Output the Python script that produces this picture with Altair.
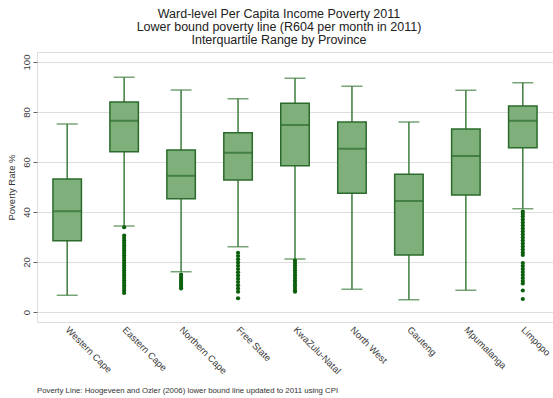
import altair as alt
import pandas as pd

# Provinces in display order
provinces = ["Western Cape", "Eastern Cape", "Northern Cape", "Free State",
             "KwaZulu-Natal", "North West", "Gauteng", "Mpumalanga", "Limpopo"]

# Box-plot summary statistics (poverty rate %, ward level)
lower_whisker = [6.7, 34.4, 16.1, 26.1, 21.2, 9.1, 4.9, 8.7, 41.3]
q1 = [28.5, 64.1, 45.3, 52.8, 58.5, 47.5, 22.8, 46.8, 65.7]
median = [40.3, 76.5, 54.5, 63.7, 74.8, 65.3, 44.4, 62.4, 76.5]
q3 = [53.2, 84.0, 64.8, 71.7, 83.5, 76.0, 55.1, 73.2, 82.4]
upper_whisker = [75.2, 93.9, 88.8, 85.3, 93.5, 90.3, 76.0, 88.7, 91.7]

# Outlying wards per province
outliers = {
    "Western Cape": [],
    "Eastern Cape": [33.9, 30.6, 29.6, 28.6, 27.6, 26.6, 25.6, 24.6, 23.6, 22.6,
                     21.6, 20.6, 19.6, 18.6, 17.6, 16.6, 15.6, 14.6, 13.6, 12.6,
                     11.6, 10.6, 9.6, 8.6, 7.6],
    "Northern Cape": [15.0, 14.0, 13.2, 12.4, 11.6, 10.8, 10.0, 9.4],
    "Free State": [23.7, 22.4, 21.1, 19.8, 18.5, 17.2, 15.9, 14.6, 13.3, 12.0,
                   10.7, 9.4, 8.1, 5.5],
    "KwaZulu-Natal": [20.6, 19.6, 18.6, 17.6, 16.6, 15.6, 14.6, 13.6, 12.6,
                      11.6, 10.6, 9.6, 8.6, 8.1],
    "North West": [],
    "Gauteng": [],
    "Mpumalanga": [],
    "Limpopo": [40.2, 39.2, 38.2, 37.0, 35.8, 34.6, 33.4, 32.2, 31.0, 29.8,
                28.6, 27.4, 26.2, 25.0, 23.8, 22.8, 19.6, 18.4, 17.2, 16.0,
                14.8, 13.6, 12.4, 11.4, 8.6, 5.2],
}

title_lines = ["Ward-level Per Capita Income Poverty 2011",
               "Lower bound poverty line (R604 per month in 2011)",
               "Interquartile Range by Province"]
note_text = "Poverty Line: Hoogeveen and Ozler (2006) lower bound line updated to 2011 using CPI"
y_ticks = [0, 20, 40, 60, 80, 100]

FONT = "Liberation Sans"
BOX_FILL = "#7fb07c"
DARK = "#2b6b2b"
WHISKER = "#3d7d3d"
DOT = "#0c5f0c"

stats = pd.DataFrame({
    "province": provinces, "lower": lower_whisker, "q1": q1,
    "median": median, "q3": q3, "upper": upper_whisker,
})
out_df = pd.DataFrame(
    [{"province": p, "value": v} for p in provinces for v in outliers[p]]
)
note_df = pd.DataFrame({"note": [note_text]})

x_enc = alt.X(
    "province:N", sort=provinces, title=None,
    scale=alt.Scale(paddingInner=0.5, paddingOuter=0.28),
    axis=alt.Axis(labelAngle=45, labelAlign="left", labelBaseline="middle",
                  ticks=False, domain=False, labelPadding=6,
                  labelFont=FONT, labelFontSize=9.5, labelColor="#3a3a3a"),
)
y_scale = alt.Scale(domain=[-4, 104], nice=False, zero=False)
y_axis = alt.Axis(values=y_ticks, title="Poverty Rate %", labelAngle=-90,
                  labelAlign="center", labelBaseline="bottom", labelPadding=2,
                  tickSize=4, tickColor="#666666", domain=False,
                  grid=True, gridColor="#dedede", gridWidth=1,
                  labelFont=FONT, labelFontSize=9.5, labelColor="#3a3a3a",
                  titleFont=FONT, titleFontSize=9.5, titleFontWeight="normal",
                  titleColor="#333333", titlePadding=5)

base = alt.Chart(stats).encode(x=x_enc)

whiskers = base.mark_rule(color=WHISKER, strokeWidth=1.5).encode(
    y=alt.Y("lower:Q", scale=y_scale, axis=y_axis), y2="upper:Q")
cap_low = base.mark_tick(color=WHISKER, size=21, thickness=1.5).encode(
    y=alt.Y("lower:Q", scale=y_scale))
cap_high = base.mark_tick(color=WHISKER, size=21, thickness=1.5).encode(
    y=alt.Y("upper:Q", scale=y_scale))
boxes = base.mark_bar(fill=BOX_FILL, stroke=DARK, strokeWidth=1.5).encode(
    y=alt.Y("q1:Q", scale=y_scale), y2="q3:Q")
medians = base.mark_tick(color=DARK, size=28, thickness=2).encode(
    y=alt.Y("median:Q", scale=y_scale))
dots = alt.Chart(out_df).mark_circle(color=DOT, opacity=1, size=18).encode(
    x=alt.X("province:N", sort=provinces), y=alt.Y("value:Q", scale=y_scale))
note = alt.Chart(note_df).mark_text(
    align="left", baseline="middle", font=FONT, fontSize=7.8, color="#333333"
).encode(x=alt.value(0), y=alt.value(339), text="note:N")

chart = alt.layer(whiskers, cap_low, cap_high, boxes, medians, dots, note).properties(
    width=516, height=270,
    autosize=alt.AutoSizeParams(type="none"),
    padding={"left": 37, "top": 52, "right": 0, "bottom": 76},
    title=alt.TitleParams(text=title_lines, font=FONT, fontSize=12.5,
                          fontWeight="normal", color="#222222", anchor="middle",
                          dx=-16, lineHeight=13.2, offset=5),
).configure_view(stroke="#a8a8a8", strokeWidth=1).configure(background="white")

chart.save("out.html", embed_options={"renderer": "svg", "actions": False})
